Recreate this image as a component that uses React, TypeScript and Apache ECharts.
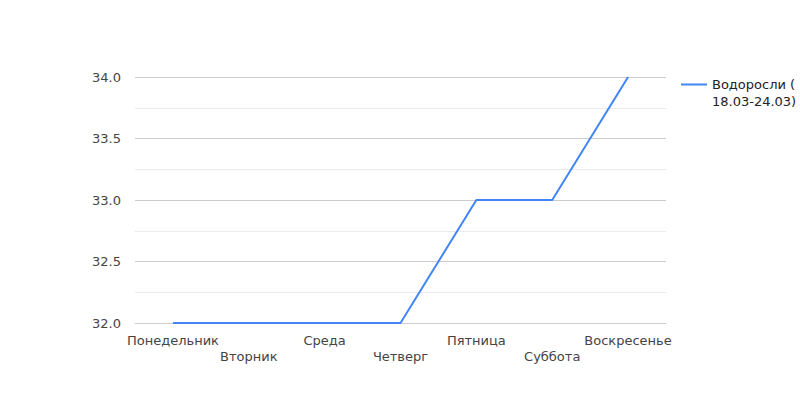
import React, { useEffect, useRef } from "react";
import * as echarts from "echarts";

const categories = ["Понедельник", "Вторник", "Среда", "Четверг", "Пятница", "Суббота", "Воскресенье"];
const seriesName = "Водоросли (18.03-24.03)";
const values = [32, 32, 32, 32, 33, 33, 34];
const yTicks = { min: 32, max: 34, interval: 0.5 };

export default function App() {
  const ref = useRef<HTMLDivElement>(null);
  useEffect(() => {
    const chart = echarts.init(ref.current!, null, { renderer: "svg" });
    const font = "DejaVu Sans";
    chart.setOption({
      animation: false,
      textStyle: { fontFamily: font },
      grid: { left: 135, right: 134, top: 77, bottom: 77, containLabel: false },
      legend: {
        data: [seriesName],
        orient: "vertical",
        left: 681,
        top: 76,
        padding: 0,
        icon: "path://M0,0 H26 V2 H0 Z M0,18.95 H0.01 V19 H0 Z",
        itemWidth: 26,
        itemHeight: 19,
        itemGap: 5,
        formatter: () => "Водоросли (\n18.03-24.03)",
        textStyle: { fontFamily: font, fontSize: 13, color: "#222", lineHeight: 17, padding: [0, 0, 0, 0] },
      },
      xAxis: {
        type: "category",
        data: categories,
        boundaryGap: true,
        axisLine: { show: true, lineStyle: { color: "#ccc" } },
        axisTick: { show: false },
        axisLabel: {
          interval: 0,
          margin: 9,
          fontSize: 13,
          color: "#444",
          lineHeight: 16,
          formatter: (v: string, i: number) => (i % 2 === 1 ? "\n" + v : v),
        },
      },
      yAxis: {
        type: "value",
        min: yTicks.min,
        max: yTicks.max,
        interval: yTicks.interval,
        axisLine: { show: false },
        axisTick: { show: false },
        axisLabel: { margin: 14, fontSize: 13, color: "#444", formatter: (v: number) => v.toFixed(1) },
        splitLine: { lineStyle: { color: "#ccc" } },
        minorTick: { show: false, splitNumber: 2 },
        minorSplitLine: { show: true, lineStyle: { color: "#ebebeb" } },
      },
      series: [
        {
          name: seriesName,
          type: "line",
          data: values,
          symbol: "none",
          lineStyle: { color: "#4285f4", width: 2 },
          itemStyle: { color: "#4285f4" },
        },
      ],
    });
    return () => chart.dispose();
  }, []);
  return <div ref={ref} style={{ width: 800, height: 400, position: "absolute", left: 0, top: 0 }} />;
}
